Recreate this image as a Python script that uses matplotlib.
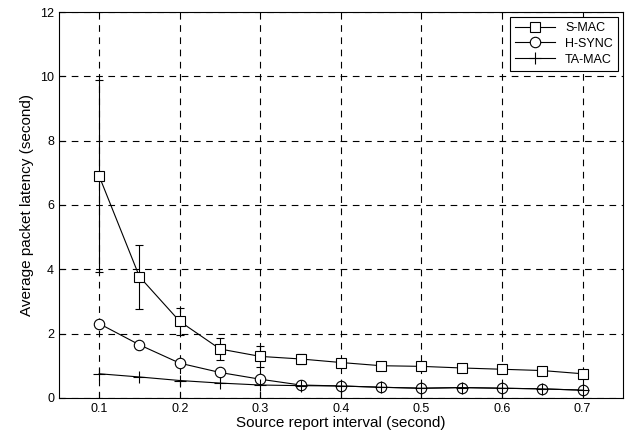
import matplotlib
matplotlib.use("Agg")
import matplotlib.pyplot as plt
from matplotlib.lines import Line2D

plt.rcParams["font.family"] = ["Liberation Sans", "DejaVu Sans"]

# Data
interval = [0.1, 0.15, 0.2, 0.25, 0.3, 0.35, 0.4, 0.45, 0.5, 0.55, 0.6, 0.65, 0.7]
smac = [6.9, 3.77, 2.38, 1.52, 1.29, 1.21, 1.1, 1.0, 0.98, 0.93, 0.89, 0.85, 0.75]
smac_err = [3.0, 1.0, 0.42, 0.34, 0.32, 0.16, 0.12, 0.06, 0.08, 0.05, 0.07, 0.05, 0.05]
hsync = [2.31, 1.65, 1.08, 0.79, 0.58, 0.4, 0.37, 0.33, 0.3, 0.32, 0.3, 0.28, 0.24]
tamac = [0.75, 0.65, 0.54, 0.46, 0.4, 0.38, 0.37, 0.33, 0.3, 0.32, 0.3, 0.28, 0.24]

fig = plt.figure(figsize=(6.33, 4.32), dpi=100)
ax = fig.add_axes([0.093, 0.079, 0.891, 0.893])

ax.grid(True, color="black", linestyle=(0, (6, 5)), linewidth=0.8)
ax.set_axisbelow(True)

ax.errorbar(interval, smac, yerr=smac_err, color="black", lw=0.8,
            marker="s", ms=6.5, mfc="white", mec="black", mew=0.8,
            capsize=3, elinewidth=0.8, capthick=0.8, zorder=3)
ax.plot(interval, hsync, color="black", lw=0.8, marker="o", ms=7.5,
        mfc="white", mec="black", mew=0.8, zorder=3)
ax.plot(interval, tamac, color="black", lw=0.8, marker="+", ms=9,
        mew=0.8, zorder=4)

ax.set_xlim(0.05, 0.75)
ax.set_ylim(0, 12)
ax.set_xticks([0.1, 0.2, 0.3, 0.4, 0.5, 0.6, 0.7])
ax.set_yticks(range(0, 13, 2))
ax.tick_params(direction="in", labelsize=9, length=4)

ax.set_xlabel("Source report interval (second)", fontsize=11, labelpad=1)
ax.set_ylabel("Average packet latency (second)", fontsize=11, labelpad=4)

handles = [
    Line2D([], [], color="black", lw=0.8, marker="s", ms=6.5, mfc="white", mew=0.8),
    Line2D([], [], color="black", lw=0.8, marker="o", ms=7.5, mfc="white", mew=0.8),
    Line2D([], [], color="black", lw=0.8, marker="+", ms=9, mew=0.8),
]
leg = ax.legend(handles, ["S-MAC", "H-SYNC", "TA-MAC"], loc="upper right",
                fontsize=9, fancybox=False, edgecolor="black", framealpha=1,
                handlelength=3.2, borderaxespad=0.4, labelspacing=0.3)
leg.get_frame().set_linewidth(0.8)

fig.savefig("out.png", dpi=100)
